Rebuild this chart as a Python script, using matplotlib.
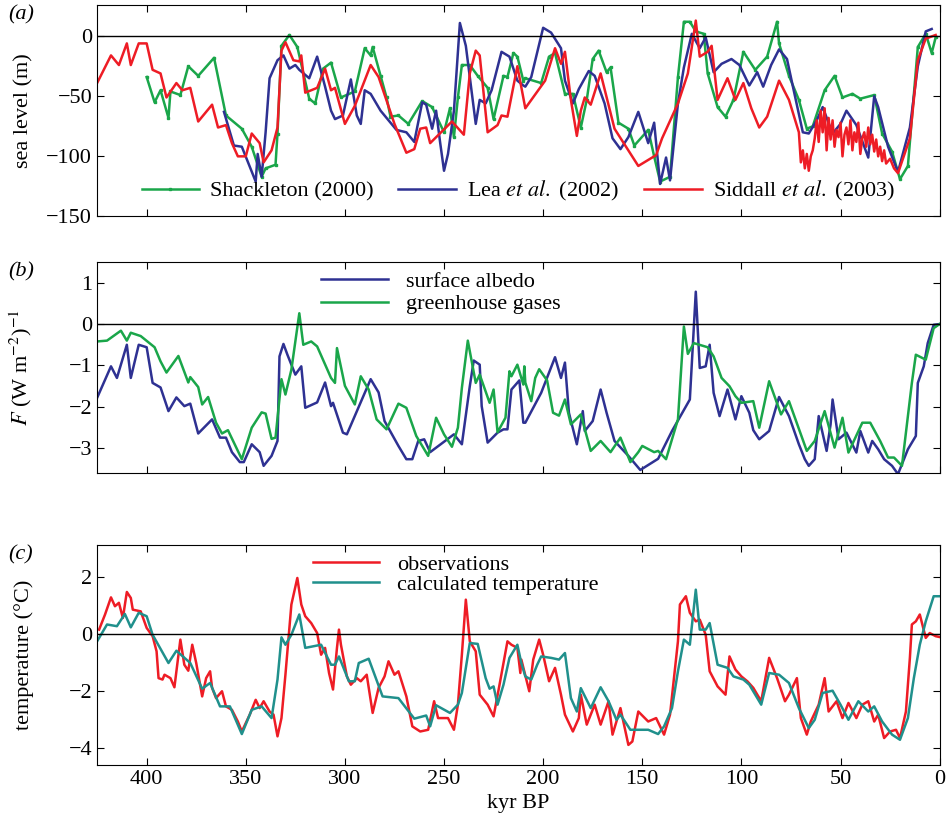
import numpy as np
import matplotlib.pyplot as plt

# (a) sea level, m  -- (kyr BP, value)
shack_t = [400,396,393,389,388,383,379,374,366,360,352,347,342,340,335,334,332,328,324,318,315,311,307,302,295,290,287,286,282,279,277,273,268,261,256,250,247,245,243,241,237,233,228,225,220,218,215,213,210,
           209,201,197,194,189,185,181,178,175,172,168,166,162,157,154,147,144,141,136,132,129,126,123,119,117,112,108,104,99,93,87,82,81,76,71,67,64,58,53,49,44,40,33,29,24,20,16,11,7,4,2]
shack_v = [-34,-55,-45,-68,-46,-49,-25,-33,-18,-66,-77,-92,-117,-110,-107,-81,-8,1,-9,-52,-56,-27,-22,-51,-46,-10,-16,-9,-33,-51,-67,-66,-73,-54,-59,-80,-60,-84,-51,-24,-24,-33,-43,-69,-33,-34,-14,-17,-37,
           -35,-39,-17,-14,-48,-48,-76,-53,-19,-12,-30,-26,-72,-77,-91,-78,-100,-121,-117,-34,12,12,4,2,-31,-59,-67,-53,-13,-28,-17,12,-6,-33,-53,-77,-75,-45,-33,-51,-48,-52,-49,-81,-96,-119,-108,-9,2,-14,-1]
lea_t = [361,356,352,345,344,342,340,338,334,331,328,325,323,318,314,310,307,305,301,297,294,292,290,287,282,274,269,265,261,259,256,254,252,250,248,245,242,239,234,232,229,226,221,217,213,210,
         209,206,200,196,191,189,185,182,177,174,169,165,161,157,152,147,144,141,138,136,132,129,125,121,118,114,110,105,101,96,92,89,85,81,77,74,69,66,62,59,54,50,47,42,36,33,31,26,21,15,11,7,4]
lea_v = [-63,-91,-92,-121,-98,-117,-80,-35,-20,-16,-27,-24,-28,-35,-17,-42,-62,-69,-66,-36,-66,-73,-45,-48,-62,-78,-80,-88,-55,-57,-77,-62,-88,-112,-98,-62,11,-8,-73,-53,-56,-45,-13,-17,-37,-41,
         -42,-34,7,3,-10,-37,-56,-44,-29,-33,-56,-85,-94,-84,-63,-89,-72,-123,-101,-120,-56,-26,2,-10,-1,-30,-23,-19,-24,-41,-30,-42,-24,-11,-19,-42,-80,-81,-70,-59,-81,-73,-62,-74,-101,-50,-59,-92,-113,-76,-25,4,6]
sid_t = [425,418,414,410,408,404,400,397,393,390,385,382,378,374,367,364,360,357,354,350,347,343,341,337,334,332,330,326,323,322,320,314,310,307,305,300,295,287,283,275,269,265,262,259,257,246,240,237,234,232,228,223,221,218,213,
         209,199,194,191,189,186,183,181,179,176,171,164,152,143,140,132,127,123,121,117,115,112,107,103,99,95,91,87,81,76,71,
         70,69,68,67,66,65,64,63,62,61,60,59,58,57,56,55,54,53,52,51,50,49,48,47,46,45,44,43,42,41,40,39,38,37,36,35,34,33,32,31,30,29,28,27,25,23,
         21,15,11,7,2]
sid_v = [-39,-16,-24,-6,-24,-6,-6,-28,-31,-51,-39,-45,-43,-71,-57,-76,-74,-89,-100,-100,-81,-89,-105,-95,-76,-12,-5,-20,-21,-16,-47,-43,-27,-45,-43,-73,-58,-24,-34,-73,-97,-94,-77,-76,-89,-71,-82,-31,-12,-16,-80,-74,-66,-67,-25,
         -60,-37,-10,-23,-13,-53,-83,-62,-51,-57,-31,-77,-108,-99,-85,-56,-31,13,-17,-13,-8,-53,-35,-53,-39,-60,-76,-67,-37,-53,-80,
         -105,-95,-110,-98,-112,-100,-95,-85,-70,-88,-62,-80,-60,-95,-68,-86,-70,-92,-78,-84,-72,-100,-82,-76,-90,-70,-95,-80,-88,-72,-98,-85,-80,-92,-76,-90,-82,-96,-86,-100,-92,-104,-95,-106,-102,-110,
         -114,-85,-20,-2,1]

# (b) forcing
alb_t = [425,418,415,410,408,404,400,397,393,389,385,381,378,374,367,363,360,357,353,351,347,343,341,337,334,333,331,329,325,322,320,314,310,307,306,301,299,287,283,280,273,269,266,263,260,257,245,241,237,235,232,231,228,223,220,218,216,212,210,
         209,201,194,191,189,187,183,180,179,175,171,168,164,157,151,142,135,126,123,121,118,116,114,111,107,103,100,96,94,91,86,81,76,71,68,66,63,61,57,55,54,51,47,42,40,36,34,31,28,24,21,16,12,11,8,6,3,0]
alb_v = [-1.78,-1.02,-1.3,-0.5,-1.3,-0.5,-0.56,-1.42,-1.53,-2.1,-1.77,-1.98,-1.92,-2.64,-2.3,-2.74,-2.74,-3.09,-3.33,-3.33,-2.9,-3.09,-3.42,-3.18,-2.82,-0.78,-0.48,-0.74,-1.22,-1.02,-2.02,-1.89,-1.41,-1.98,-1.9,-2.62,-2.66,-1.33,-1.65,-2.34,-2.94,-3.26,-3.26,-2.82,-2.78,-3.09,-2.66,-2.9,-1.5,-0.88,-0.98,-1.98,-2.86,-2.62,-2.54,-2.54,-1.58,-1.36,-2.38,
         -2.38,-1.66,-0.8,-1.3,-0.93,-2.14,-2.9,-2.1,-2.58,-2.34,-1.58,-2.14,-2.82,-3.18,-3.52,-3.25,-2.58,-1.82,0.78,-1.06,-1.02,-0.5,-1.66,-2.22,-1.58,-2.3,-1.74,-2.14,-2.56,-2.78,-2.58,-1.76,-2.22,-2.9,-3.26,-3.42,-3.26,-2.22,-3.06,-2.42,-1.82,-2.78,-2.62,-3.1,-2.58,-3.1,-2.82,-3.02,-3.26,-3.42,-3.62,-3.02,-2.7,-1.42,-1.02,-0.46,-0.02,0.0]
ghg_t = [425,420,413,410,408,403,396,393,390,384,379,378,374,372,369,365,362,359,352,347,342,340,337,335,332,330,327,323,321,317,314,307,305,304,300,295,292,288,284,279,273,269,264,258,254,250,246,243,241,238,234,232,227,225,223,219,217,216,213,210,
         209.5,209,206,204,202,198,195,192,189,186,181,176,171,166,161,156,152,150,144,142,138,132,129,127,124,117,114,110,106,103,100,94,91,86,80,76,67,63,58,53,49,46,39,35,30,26,23,19,14,12,7,3,0]
ghg_v = [-0.42,-0.4,-0.16,-0.4,-0.21,-0.29,-0.56,-0.9,-1.17,-0.77,-1.41,-1.28,-1.52,-1.94,-1.76,-2.38,-2.64,-2.56,-3.26,-2.5,-2.13,-2.16,-2.77,-2.74,-1.33,-1.7,-1.1,0.26,-0.5,-0.42,-0.54,-1.3,-1.42,-0.58,-1.49,-1.94,-1.26,-1.58,-2.3,-2.54,-1.92,-2.02,-2.7,-3.18,-2.26,-2.66,-2.96,-2.5,-1.54,-0.4,-1.42,-1.22,-1.9,-1.58,-2.61,-2.26,-1.14,-1.26,-0.98,-1.46,
         -1.02,-1.41,-1.86,-1.3,-1.09,-1.36,-2.14,-2.21,-1.82,-2.42,-2.18,-3.06,-2.82,-3.09,-2.74,-3.33,-3.09,-2.94,-3.09,-3.06,-3.26,-2.3,-0.06,-0.72,-0.46,-0.56,-0.78,-1.3,-1.5,-1.74,-1.9,-1.86,-2.5,-1.38,-2.18,-1.86,-3.06,-2.82,-2.1,-2.98,-2.26,-3.1,-2.38,-2.38,-2.82,-3.22,-3.22,-3.42,-1.42,-0.74,-0.86,-0.1,0.0]

# (c) temperature
obs_t = [424,421,418,416,414,412,410,408,407,403,400,397,395,394,392,391,388,386,385,383,381,379,377,375,372,370,368,367,365,362,360,357,354,352,348,345,343,341,338,336,334,332,330,327,324,322,320,317,314,312,310,308,306,304,303,302,299,297,294,292,289,286,283,280,278,275,273,269,266,262,258,255,253,248,245,243,241,239,237,234,232,228,225,222,218,216,213,
         211.5,211,207,205,202,200,197,194,191,189,185,182,181,178,174,171,167,165,161,157,155,152,147,143,139,136,132,131,128,126,123,121,118,116,112,108,106,103,100,97,94,90,86,82,78,76,72,70,67,65,61,58,56,52,49,46,42,39,36,33,31,28,25,22,20,17,15,14,12,10,7,5,2,0]
obs_v = [0.14,0.67,1.27,0.96,1.08,0.55,1.46,1.25,0.84,0.78,0.2,-0.09,-0.62,-1.56,-1.61,-1.44,-1.56,-1.88,-1.32,-0.21,-1.09,-1.3,-0.39,-1.03,-2.2,-1.56,-1.32,-1.9,-2.26,-2.02,-2.55,-2.67,-3.08,-3.43,-2.84,-2.32,-2.61,-2.37,-2.73,-2.84,-3.6,-2.96,-1.44,1.02,1.95,1.02,0.61,0.37,0.02,-0.74,-0.5,-1.38,-1.96,-0.5,0.14,-0.39,-1.5,-1.79,-1.56,-1.67,-1.44,-2.78,-1.9,-1.5,-0.97,-1.44,-1.32,-2.2,-3.25,-3.43,-3.37,-2.37,-2.96,-2.96,-3.37,-2.49,-0.74,1.19,-0.27,-0.62,-2.14,-2.49,-2.9,-1.79,-0.27,-0.39,-0.5,
         -1.38,-0.91,-2.02,-0.91,-0.21,-0.74,-1.67,-1.2,-2.14,-2.84,-3.43,-2.96,-2.14,-3.19,-2.49,-3.19,-2.37,-3.54,-2.61,-3.9,-3.78,-2.73,-3.08,-2.96,-3.54,-2.84,-0.27,1.02,1.31,0.73,0.43,0.49,-0.04,-1.32,-1.85,-2.14,-0.8,-1.26,-1.5,-1.67,-1.9,-2.37,-0.85,-1.56,-2.37,-2.14,-1.56,-2.96,-3.54,-3.08,-2.49,-1.56,-2.73,-2.37,-2.96,-2.43,-2.96,-2.49,-2.37,-3.08,-2.84,-3.66,-3.43,-3.37,-3.66,-2.73,-0.85,0.32,0.43,0.67,-0.15,0.02,-0.09,-0.12]
calc_t = [425,420,415,411,408,404,400,397,389,385,378,372,368,363,358,352,347,342,337,334,332,330,327,323,320,312,307,305,303,298,295,293,288,281,273,265,259,257,254,247,243,241,237,233,229,227,225,223,220,217,213,
          211,209,206,203,201,196,192,189,186,183,181,176,171,167,163,161,156,147,142,139,135,132,129,126,123,121,118,116,112,107,104,99,96,90,86,81,76,71,66,63,59,54,50,46,41,36,33,29,24,20,16,13,10,7,3,0]
calc_v = [-0.27,0.32,0.26,0.69,0.22,0.73,0.61,-0.04,-1.03,-0.6,-1.03,-1.93,-1.73,-2.55,-2.55,-3.52,-2.67,-2.55,-2.96,-1.61,-0.13,-0.39,-0.04,0.67,-0.5,-0.39,-1.09,-1.09,-0.8,-1.67,-1.67,-1.03,-0.88,-2.2,-2.26,-2.98,-2.87,-3.25,-2.51,-2.78,-2.49,-2.08,-0.33,-0.36,-1.56,-1.93,-1.85,-2.49,-1.79,-0.85,-0.39,
          -1.03,-1.5,-1.61,-1.09,-0.8,-0.85,-0.91,-0.68,-2.26,-2.73,-1.91,-2.61,-1.88,-2.37,-3.02,-2.84,-3.37,-3.37,-3.52,-3.25,-2.61,-1.32,-0.21,-0.39,1.54,0.14,0.14,0.37,-1.09,-1.2,-1.5,-1.61,-1.79,-2.49,-1.38,-1.44,-1.73,-2.61,-3.31,-3.02,-2.08,-2.0,-2.49,-3.02,-2.37,-2.73,-2.55,-3.08,-3.54,-3.72,-2.96,-1.56,-0.39,0.43,1.31,1.31]

GREEN = '#1aa64a'
BLUE = '#2e3192'
RED = '#ee1c25'
TEAL = '#20908c'

plt.rcParams['font.family'] = ['Liberation Serif', 'DejaVu Serif']
plt.rcParams['mathtext.fontset'] = 'stix'
plt.rcParams['font.size'] = 16

fig = plt.figure(figsize=(9.52, 8.26), dpi=100)
L, W = 0.102, 0.885
axa = fig.add_axes([L, 0.738, W, 0.256])
axb = fig.add_axes([L, 0.427, W, 0.256])
axc = fig.add_axes([L, 0.074, W, 0.266])

lw = 1.8
axa.plot(shack_t, shack_v, color=GREEN, lw=lw, marker='s', ms=2, label='Shackleton (2000)')
axa.plot(lea_t, lea_v, color=BLUE, lw=lw, label='Lea $\\it{et\\ al.}$ (2002)')
axa.plot(sid_t, sid_v, color=RED, lw=lw, label='Siddall $\\it{et\\ al.}$ (2003)')
axa.set_ylim(-150, 26)
axa.set_yticks([0, -50, -100, -150])
axa.set_ylabel('sea level (m)')
axa.legend(loc='lower center', ncol=3, frameon=False, handlelength=2.6, columnspacing=1.1,
           borderpad=0.1, handletextpad=0.5, fontsize=16)

axb.plot(alb_t, alb_v, color=BLUE, lw=lw, label='surface albedo')
axb.plot(ghg_t, ghg_v, color=GREEN, lw=lw, label='greenhouse gases')
axb.set_ylim(-3.6, 1.5)
axb.set_yticks([1, 0, -1, -2, -3])
axb.set_ylabel('$F$ (W m$^{-2}$)$^{-1}$')
axb.legend(loc='upper left', bbox_to_anchor=(0.25, 1.02), frameon=False, handlelength=3,
           borderpad=0.1, labelspacing=0.1, fontsize=16)

axc.plot(obs_t, obs_v, color=RED, lw=lw, label='observations')
axc.plot(calc_t, calc_v, color=TEAL, lw=lw, label='calculated temperature')
axc.set_ylim(-4.6, 3.1)
axc.set_yticks([2, 0, -2, -4])
axc.set_ylabel('temperature (°C)')
axc.set_xlabel('kyr BP')
axc.legend(loc='upper left', bbox_to_anchor=(0.24, 1.02), frameon=False, handlelength=3,
           borderpad=0.1, labelspacing=0.0, fontsize=16)

for ax, lab in zip([axa, axb, axc], ['(a)', '(b)', '(c)']):
    ax.axhline(0, color='black', lw=1)
    ax.set_xlim(425, 0)
    ax.set_xticks([400, 350, 300, 250, 200, 150, 100, 50, 0])
    ax.tick_params(direction='in', top=True, right=True, length=5)
    if ax is not axc:
        ax.tick_params(labelbottom=False)
    ax.yaxis.set_label_coords(-0.075, 0.5)
    ax.text(-0.105, 1.0, lab, transform=ax.transAxes, style='italic', va='top', ha='left')

fig.savefig('out.png', dpi=100)
